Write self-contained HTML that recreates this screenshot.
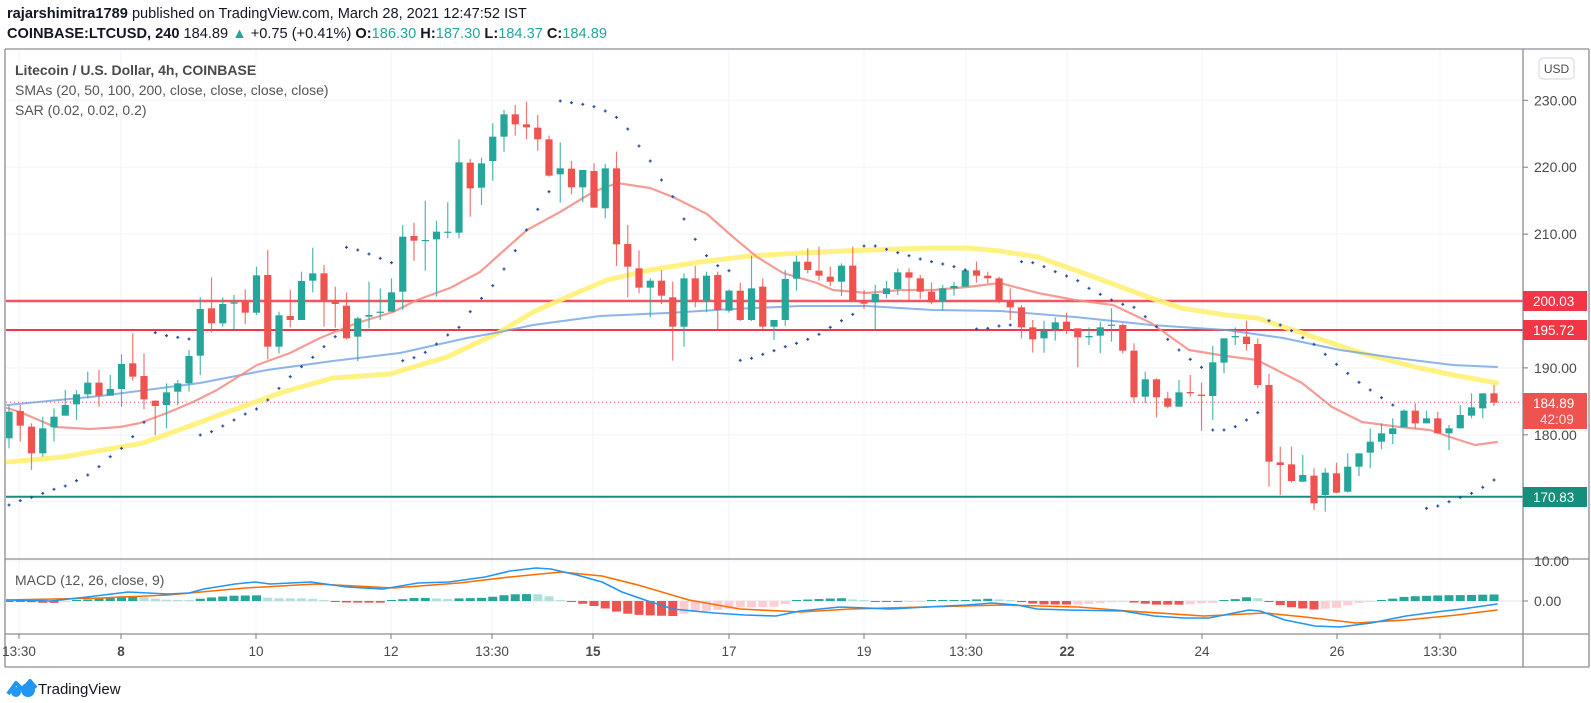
<!DOCTYPE html>
<html><head><meta charset="utf-8">
<style>
html,body{margin:0;padding:0;background:#fff;width:1591px;height:703px;overflow:hidden}
svg{display:block}
text{font-family:"Liberation Sans",sans-serif}
</style></head>
<body>
<svg id="s" width="1591" height="703" viewBox="0 0 1591 703" xmlns="http://www.w3.org/2000/svg">
<defs>
<clipPath id="cp"><rect x="6" y="50" width="1517" height="509"/></clipPath>
<clipPath id="cm"><rect x="6" y="560" width="1517" height="74"/></clipPath>
</defs>
<g id="grid"></g>
<g id="hl" clip-path="url(#cp)"></g>
<g id="ma" clip-path="url(#cp)"></g>
<g id="cd" clip-path="url(#cp)"></g>
<g id="sar" clip-path="url(#cp)"></g>
<g id="mc" clip-path="url(#cm)"></g>
<g id="fr"></g>
<text x="7" y="18" font-size="14.6" fill="#131722"><tspan font-weight="bold">rajarshimitra1789</tspan> published on TradingView.com, March 28, 2021 12:47:52 IST</text>
<text x="7" y="38" font-size="14.6" fill="#131722"><tspan font-weight="bold">COINBASE:LTCUSD, 240</tspan> 184.89 <tspan fill="#26a69a">▲</tspan> +0.75 (+0.41%) <tspan font-weight="bold">O:</tspan><tspan fill="#26a69a">186.30</tspan> <tspan font-weight="bold">H:</tspan><tspan fill="#26a69a">187.30</tspan> <tspan font-weight="bold">L:</tspan><tspan fill="#26a69a">184.37</tspan> <tspan font-weight="bold">C:</tspan><tspan fill="#26a69a">184.89</tspan></text>
<text x="15" y="75" font-size="14" fill="#4a4a4a" font-weight="bold">Litecoin / U.S. Dollar, 4h, COINBASE</text>
<text x="15" y="95" font-size="14" fill="#555">SMAs (20, 50, 100, 200, close, close, close, close)</text>
<text x="15" y="115" font-size="14" fill="#555">SAR (0.02, 0.02, 0.2)</text>
<text x="15" y="585" font-size="14" fill="#555">MACD (12, 26, close, 9)</text>
<g id="ax"></g>
<g transform="translate(6,678)">
<path d="M2 16 L10 5 L17 12 L24 3 L30 10" fill="none" stroke="#2196f3" stroke-width="4" stroke-linejoin="round"/>
<circle cx="10" cy="14" r="5" fill="#2196f3"/><circle cx="22" cy="12" r="7" fill="#2196f3"/>
</g>
<text x="38" y="694" font-size="15" fill="#131722">TradingView</text>
</svg>
<script>
const NS="http://www.w3.org/2000/svg";
function el(p,t,a,txt){const e=document.createElementNS(NS,t);for(const k in a)e.setAttribute(k,a[k]);if(txt!==undefined)e.textContent=txt;document.getElementById(p).appendChild(e);return e;}
const X=i=>9+i*11.25;
const PY=p=>100.3+(230-p)*6.69;
const Z=v=>90+v/3;
[230,220,210,200,190,180,170].forEach(p=>el('grid','line',{x1:6,x2:1523,y1:PY(p),y2:PY(p),stroke:'#f0f3fa','stroke-width':1}));
[561,601].forEach(y=>el('grid','line',{x1:6,x2:1523,y1:y,y2:y,stroke:'#f0f3fa'}));
const tl=[[19,'13:30',0],[121,'8',1],[256,'10',0],[391,'12',0],[492,'13:30',0],[593,'15',1],[729,'17',0],[864,'19',0],[966,'13:30',0],[1067,'22',1],[1202,'24',0],[1337,'26',0],[1440,'13:30',0]];
tl.forEach(t=>{el('grid','line',{x1:t[0],x2:t[0],y1:50,y2:634,stroke:'#f0f3fa'});
 el('ax','line',{x1:t[0],x2:t[0],y1:634,y2:639,stroke:'#787b86'});
 el('ax','text',{x:t[0],y:656,'font-size':13.5,fill:'#4a4a4a','text-anchor':'middle','font-weight':t[2]?'bold':'normal'},t[1]);});
el('hl','line',{x1:6,x2:1523,y1:301,y2:301,stroke:'#f23645','stroke-width':2.5,'stroke-opacity':0.85});
el('hl','line',{x1:6,x2:1523,y1:330,y2:330,stroke:'#f23645','stroke-width':2});
el('hl','line',{x1:6,x2:1523,y1:496.7,y2:496.7,stroke:'#138f7c','stroke-width':2});
el('hl','line',{x1:6,x2:1523,y1:402.2,y2:402.2,stroke:'#ef5350','stroke-width':1,'stroke-dasharray':'1 3'});
function pl(id,pts,col,w,op){el(id,'polyline',{points:pts.map(p=>p.join(',')).join(' '),fill:'none',stroke:col,'stroke-width':w,'stroke-opacity':op,'stroke-linejoin':'round','stroke-linecap':'round'});}
const sma50=[[7,462],[63,457],[143,443],[187,427],[233,410],[283,392],[333,378],[390,374],[447,357],[500,332],[533,312],[567,297],[607,280],[650,270],[700,262],[750,256],[800,253],[867,250],[933,248],[967,248],[1000,251],[1038,257],[1075,270],[1113,284],[1151,298],[1181,308],[1226,315],[1257,318],[1302,333],[1358,352],[1415,367],[1453,375],[1497,383]];
const sma100=[[7,405],[100,396],[200,383],[267,370],[333,361],[400,353],[467,338],[500,332],[533,325],[600,316],[667,313],[733,309],[800,306],[867,306],[933,310],[1000,311],[1075,317],[1151,325],[1226,330],[1283,338],[1340,350],[1396,358],[1453,365],[1497,367]];
const sma20=[[7,408],[20,412],[55,427],[90,429],[120,427],[140,423],[167,413],[193,402],[217,390],[257,365],[290,353],[320,338],[357,323],[393,312],[417,300],[450,288],[480,272],[500,254],[527,230],[560,212],[593,192],[617,183],[650,188],[673,197],[707,214],[733,237],[757,257],[783,273],[817,283],[833,290],[867,293],[900,290],[933,290],[967,287],[1000,283],[1038,293],[1075,300],[1113,305],[1151,323],[1189,350],[1226,356],[1257,360],[1302,383],[1332,407],[1362,422],[1400,427],[1430,430],[1453,438],[1475,445],[1497,442]];
pl('ma',sma50,'#fff176',5,0.9);
pl('ma',sma100,'#6fa3e3',2,0.8);
pl('ma',sma20,'#f28b82',2.2,0.85);
const C="G965,1045,945,1075|R963,1007,945,1055|R1010,1090,1000,1140|G1015,1090,980,1100|G980,1012,955,1055|G945,977,900,977|G913,943,900,990|G878,913,845,925|R878,917,840,950|G897,917,855,917|G822,897,793,950|R820,860,730,872|R858,928,790,958|R932,948,932,1035|G907,945,880,1015|G880,905,870,945|G798,880,780,905|G657,797,622,855|R655,700,562,728|G642,700,622,710|G637,641,615,717|R635,668,598,702|G556,668,530,675|R555,770,480,808|G676,770,665,790|R678,690,600,712|G573,690,545,690|G550,572,473,607|R550,632,525,710|R630,642,590,713|R647,745,608,748|G685,740,680,813|G675,680,575,715|G665,668,595,690|G607,665,565,665|G440,605,405,660|R438,452,398,512|G450,453,332,542|G425,448,392,620|G425,428,337,445|G217,428,148,445|R218,295,207,380|G220,293,203,345|G140,213,100,272|G73,140,60,185|R73,103,45,137|R103,112,35,148|R113,148,75,182|R148,257,137,260|G235,253,157,338|R236,292,213,313|G240,292,240,337|R243,353,220,353|G235,355,222,385|R235,463,185,528|R462,530,405,622|R535,593,481,610|G572,593,565,682|R572,617,540,642|R622,710,575,812|G565,710,550,770|R565,632,528,652|G557,632,545,667|R555,660,545,718|G602,662,598,668|R602,690,578,693|G595,690,497,693|R590,710,565,718|G690,710,690,750|G567,690,540,708|G515,566,497,602|R515,540,475,550|R542,557,470,572|R560,575,530,588|G527,575,520,618|R527,635,470,635|R633,641,600,657|G612,637,585,718|G595,612,573,625|G547,597,535,615|R547,563,535,633|R565,605,555,627|R605,637,577,643|G595,635,585,662|G588,595,575,617|G541,590,535,590|R541,557,515,578|R557,565,545,580|R565,633,560,640|R633,652,595,690|R652,712,645,745|R712,748,690,788|G722,745,692,788|G697,717,682,752|R695,722,668,732|R715,742,715,832|G738,742,712,765|G712,737,695,790|G704,707,655,755|R705,782,700,790|R782,922,760,938|G868,920,845,940|R868,922,865,982|R925,950,905,955|G907,950,870,950|R906,910,855,920|R914,918,878,1022|G817,918,768,990|G745,818,745,850|G738,742,712,765|R740,762,692,782|R762,885,745,895|R885,1115,852,1190|R1117,1125,1070,1215|R1123,1173,1070,1178|G1155,1175,1095,1175|R1157,1240,1135,1260|G1148,1215,1135,1265|R1150,1208,1118,1210|G1130,1205,1090,1208|G1090,1130,1090,1158|G1055,1088,1015,1135|G1030,1055,1000,1078|G1015,1032,985,1062|G962,1012,958,1012|R962,1000,940,1015|G985,1000,962,1000|R985,1030,965,1030|G1015,1030,1005,1080|G975,1015,945,1015|G952,977,910,985|G910,955,910,985|R910,938,885,948".split('|');
C.forEach((s,i)=>{const c=s[0]==='G'?'#26a69a':'#ef5350';const v=s.slice(1).split(',').map(Number);
 const x=X(i);const bt=Z(v[0]),bb=Z(v[1]),wt=Z(v[2]),wb=Z(v[3]);
 el('cd','line',{x1:x,x2:x,y1:wt,y2:wb,stroke:c,'stroke-width':1.2,'stroke-opacity':0.8});
 el('cd','rect',{x:x-3.6,y:bt,width:7.2,height:Math.max(1.2,bb-bt),fill:c});});
const S={0:1245,1:1232,2:1222,3:1210,4:1198,5:1188,6:1172,7:1155,8:1130,9:1100,10:1075,11:1040,12:997,13:728,14:737,15:742,16:747,17:1035,18:1025,19:1008,20:990,21:972,22:957,23:930,24:895,25:860,26:830,27:802,28:770,29:740,30:472,31:480,32:492,33:505,34:518,35:812,36:803,37:787,38:762,39:735,40:712,41:665,42:625,43:587,
44:537,45:482,46:420,47:358,48:305,49:33,50:38,51:43,52:50,53:63,54:82,55:117,56:168,57:213,58:270,59:320,60:387,61:448,62:497,63:527,64:542,65:811,66:805,67:793,68:782,69:770,70:760,71:748,72:733,73:712,74:692,75:673,76:468,77:468,78:478,79:488,80:497,81:507,82:515,83:522,84:530,85:540,86:717,87:715,88:708,89:705,
90:515,91:518,92:530,93:545,94:558,95:572,96:595,97:613,98:630,99:643,100:652,101:680,102:710,103:748,104:780,105:808,106:832,107:1020,108:1020,109:1010,110:990,111:968,112:692,113:705,114:722,115:743,116:763,117:793,118:823,119:850,120:877,121:900,122:923,123:945,126:1255,127:1248,128:1235,129:1222,130:1210,131:1192,132:1170};
for(const k in S){const x=X(+k),y=Z(S[k]);el('sar','rect',{x:x-1.5,y:y-0.6,width:3,height:1.2,fill:'#2a4d9b'});el('sar','rect',{x:x-0.6,y:y-1.5,width:1.2,height:3,fill:'#2a4d9b'});}
const mac=[[6,600],[51,601],[87,597],[128,592],[168,594],[189,593],[204,589],[235,584],[255,582],[270,584],[311,582],[347,587],[383,589],[418,583],[449,582],[485,577],[510,571],[536,568],[551,569],[577,575],[602,582],[622,592],[648,601],[673,609],[714,613],[745,615],[776,616],[800,611],[840,607],[891,609],[926,607],[967,605],[992,603],[1017,605],[1037,609],[1068,610],[1123,611],[1154,616],[1184,618],[1209,618],[1229,614],[1249,610],[1260,611],[1285,620],[1315,626],[1340,627],[1371,623],[1406,616],[1436,612],[1462,609],[1497,604]];
const sig=[[6,600],[102,598],[168,595],[245,588],[316,584],[393,588],[459,583],[510,577],[561,572],[602,576],[638,585],[689,600],[740,609],[800,612],[851,609],[926,607],[1002,605],[1078,607],[1128,611],[1204,616],[1265,613],[1305,617],[1356,623],[1406,620],[1457,615],[1497,610]];
function ip(pts,x){for(let i=1;i<pts.length;i++){if(x<=pts[i][0]){const a=pts[i-1],b=pts[i];return a[1]+(b[1]-a[1])*(x-a[0])/(b[0]-a[0]);}}return pts[pts.length-1][1];}
el('mc','line',{x1:6,x2:1523,y1:601,y2:601,stroke:'#e0e3eb'});
let prev=0;
for(let i=0;i<133;i++){const x=X(i);let h=(ip(sig,x)-ip(mac,x))*1.1;
 let c;if(h>=0)c=h>=prev?'#26a69a':'#b2dfdb';else c=h<=prev?'#ef5350':'#ffcdd2';
 prev=h;const hh=Math.max(1,Math.abs(h));
 el('mc','rect',{x:x-4.5,y:h>=0?601-hh:601,width:9,height:hh,fill:c});}
pl('mc',sig,'#ff6d00',1.6,1);
pl('mc',mac,'#2196f3',1.6,1);
const fs='#8a8d96';
[[5,49,1589,49],[5,667,1589,667],[5,49,5,667],[1589,49,1589,667],[1523,49,1523,667],[5,559,1589,559],[5,634,1589,634]].forEach(l=>el('fr','line',{x1:l[0],y1:l[1],x2:l[2],y2:l[3],stroke:fs,'stroke-width':1.3}));
[[230,'230.00'],[220,'220.00'],[210,'210.00'],[190,'190.00'],[180,'180.00'],[170,'170.00']].forEach(p=>{const y=PY(p[0]);el('ax','line',{x1:1523,x2:1528,y1:y,y2:y,stroke:'#787b86'});el('ax','text',{x:1534,y:y+5,'font-size':14,fill:'#4a4a4a'},p[1]);});
el('ax','rect',{x:1539,y:58,width:35,height:21,rx:4,fill:'#fff',stroke:'#d1d4dc'});
el('ax','text',{x:1556.5,y:73,'font-size':12,fill:'#4a4a4a','text-anchor':'middle'},'USD');
function box(y1,h,col,t,t2){el('ax','rect',{x:1523,y:y1,width:64,height:h,fill:col});el('ax','text',{x:1533,y:y1+15,'font-size':13.5,fill:'#fff'},t);if(t2)el('ax','text',{x:1540,y:y1+31,'font-size':13.5,fill:'#fde4e4'},t2);}
box(291,20,'#f23645','200.03');
box(320,20,'#f23645','195.72');
box(393,36,'#ef5350','184.89','42:09');
box(487,20,'#138f7c','170.83');
el('ax','text',{x:1534,y:606,'font-size':14,fill:'#4a4a4a'},'0.00');
el('ax','line',{x1:1523,x2:1528,y1:601,y2:601,stroke:'#787b86'});
el('ax','text',{x:1534,y:566,'font-size':14,fill:'#4a4a4a'},'10.00');
</script>
</body></html>
